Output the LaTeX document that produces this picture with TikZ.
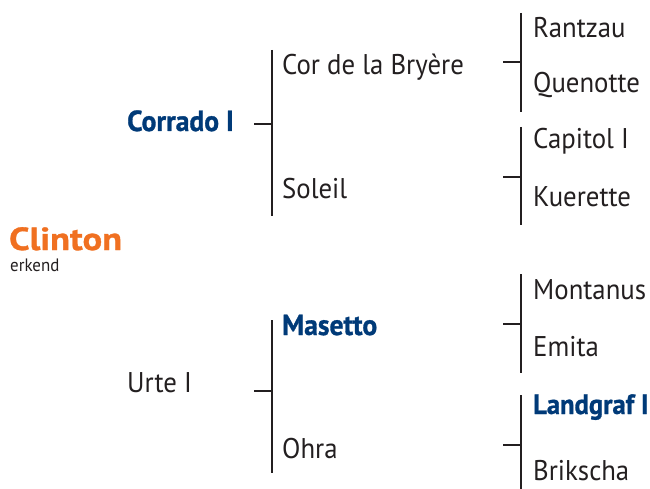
\documentclass[tikz,border=0pt]{standalone}
\usepackage{fontspec}
\setmainfont{PT Sans}[FakeStretch=0.94]
\newfontfamily\boldcond{PT Sans Bold}[FakeStretch=0.95,FakeBold=1]
\newfontfamily\boldwide{PT Sans Bold}[FakeStretch=1.14,FakeBold=1]
\definecolor{pedorange}{RGB}{240,112,33}
\definecolor{pedblue}{RGB}{0,58,120}
\definecolor{pedtext}{RGB}{35,31,32}
\tikzset{
  horsename/.style={anchor=base west, inner sep=0pt, text=pedtext, font=\fontsize{28.5}{30}\selectfont},
  strongname/.style={anchor=base west, inner sep=0pt, text=pedblue, font=\boldcond\fontsize{29}{30}\selectfont},
  bracketline/.style={draw=pedtext, line width=2.4pt},
}
\begin{document}
\begin{tikzpicture}[x=1pt,y=-1pt]
\useasboundingbox (0,0) rectangle (650,489);
% texts
\node[anchor=base west, inner sep=0pt, text depth=0pt, text=pedorange, font=\boldwide\fontsize{32}{34}\selectfont] (clinton) at (9,250) {Clinton};
\node[anchor=base west, inner sep=0pt, text=pedtext, font=\fontsize{18}{19}\selectfont] (erkend) at (10,271) {erkend};
\node[strongname] (corrado) at (127,131) {Corrado I};
\node[horsename] (urte) at (127,392) {Urte I};
\node[horsename] (cor) at (282,75) {Cor de la Bryère};
\node[horsename] (soleil) at (282,198) {Soleil};
\node[strongname] (masetto) at (282,335) {Masetto};
\node[horsename] (ohra) at (282,458) {Ohra};
\node[horsename] (rantzau) at (533,38) {Rantzau};
\node[horsename] (quenotte) at (533,93) {Quenotte};
\node[horsename] (capitol) at (533,149) {Capitol I};
\node[horsename] (kuerette) at (533,207) {Kuerette};
\node[horsename] (montanus) at (533,299) {Montanus};
\node[horsename] (emita) at (533,356) {Emita};
\node[strongname, font=\boldcond\fontsize{28}{30}\selectfont] (landgraf) at (533,414) {Landgraf I};
\node[horsename] (brikscha) at (533,480) {Brikscha};
% bracket coordinates
\coordinate (b1t) at (272,50);  \coordinate (b1b) at (272,216);
\coordinate (b1m) at (272,124); \coordinate (b1s) at (254,124);
\coordinate (b2t) at (272,320); \coordinate (b2b) at (272,473);
\coordinate (b2m) at (272,391); \coordinate (b2s) at (254,391);
\coordinate (r1t) at (521,13);  \coordinate (r1b) at (521,112);
\coordinate (r1m) at (521,62);  \coordinate (r1s) at (503,62);
\coordinate (r2t) at (521,127); \coordinate (r2b) at (521,225);
\coordinate (r2m) at (521,177); \coordinate (r2s) at (503,177);
\coordinate (r3t) at (521,274); \coordinate (r3b) at (521,373);
\coordinate (r3m) at (521,324); \coordinate (r3s) at (503,324);
\coordinate (r4t) at (521,395); \coordinate (r4b) at (521,489);
\coordinate (r4m) at (521,445); \coordinate (r4s) at (503,445);
\foreach \b in {b1,b2,r1,r2,r3,r4}{
  \draw[bracketline] (\b t) -- (\b b);
  \draw[bracketline] (\b s) -- (\b m);
}
\end{tikzpicture}
\end{document}
